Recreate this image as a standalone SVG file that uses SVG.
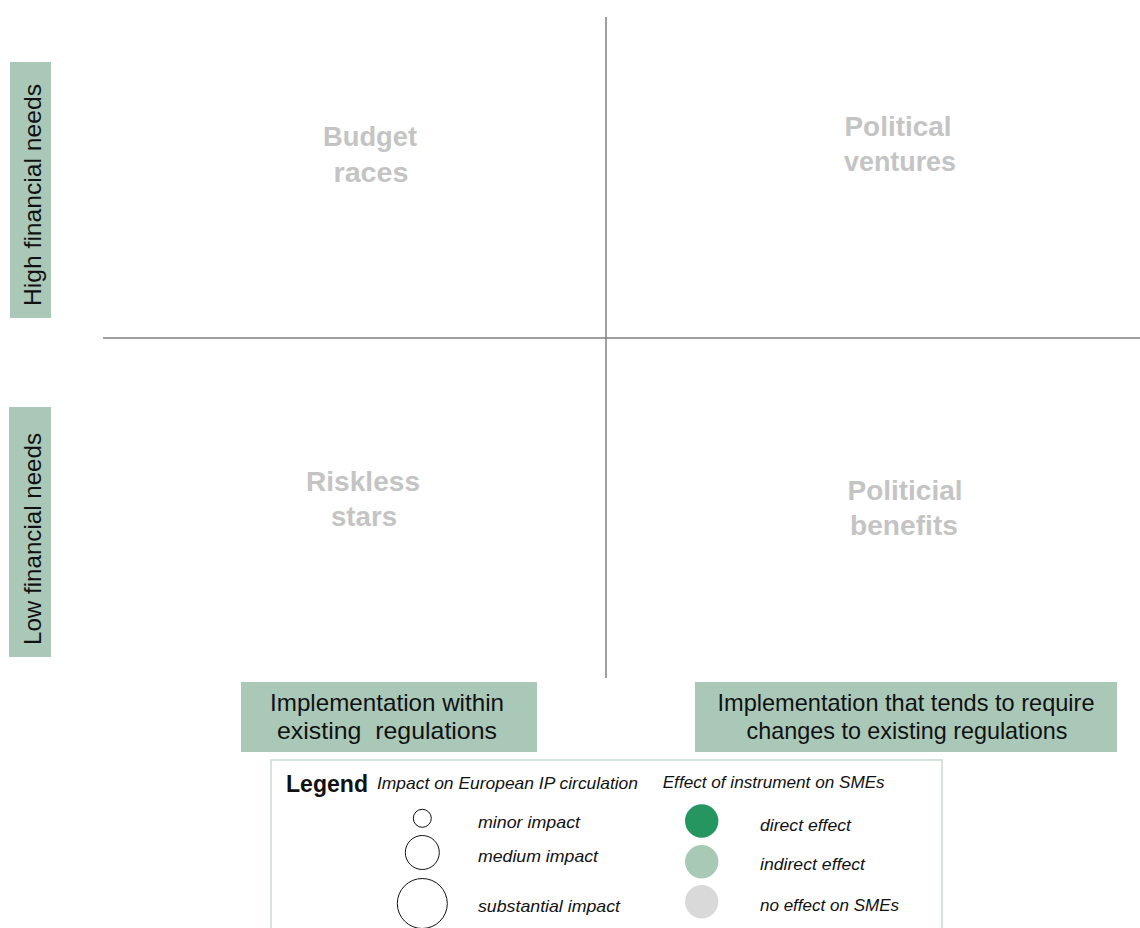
<svg xmlns="http://www.w3.org/2000/svg" width="1140" height="928" viewBox="0 0 1140 928">
<style>
.bg{fill:#aac8b8}
text{font-family:"Liberation Sans",Arial,sans-serif}
.ax{font-size:24px;fill:#111;text-anchor:middle}
.q{font-size:28px;font-weight:bold;fill:#c4c4c4;text-anchor:middle}
.bt{font-size:24px;fill:#111;text-anchor:middle}
.li{font-size:17px;font-style:italic;fill:#111}
.line{stroke:#808080;stroke-width:1.5;fill:none}
</style>
<rect width="1140" height="928" fill="#fff"/>
<g id="axes">
<line class="line" x1="606" y1="17" x2="606" y2="678"/>
<line class="line" x1="103" y1="338" x2="1140" y2="338"/>
</g>
<g id="high-label">
<rect class="bg" x="10" y="62" width="41" height="256"/>
<text class="ax" transform="translate(41,195) rotate(-90)" textLength="222" lengthAdjust="spacingAndGlyphs">High financial needs</text>
</g>
<g id="low-label">
<rect class="bg" x="9" y="407" width="42" height="250"/>
<text class="ax" transform="translate(41,539) rotate(-90)" textLength="212" lengthAdjust="spacingAndGlyphs">Low financial needs</text>
</g>
<g id="budget-races">
<text class="q" x="370" y="146" textLength="94" lengthAdjust="spacingAndGlyphs">Budget</text>
<text class="q" x="371" y="182" textLength="75" lengthAdjust="spacingAndGlyphs">races</text>
</g>
<g id="political-ventures">
<text class="q" x="898" y="136" textLength="107" lengthAdjust="spacingAndGlyphs">Political</text>
<text class="q" x="900" y="171" textLength="112" lengthAdjust="spacingAndGlyphs">ventures</text>
</g>
<g id="riskless-stars">
<text class="q" x="363" y="491" textLength="114" lengthAdjust="spacingAndGlyphs">Riskless</text>
<text class="q" x="364" y="526" textLength="66" lengthAdjust="spacingAndGlyphs">stars</text>
</g>
<g id="political-benefits">
<text class="q" x="905" y="500" textLength="115" lengthAdjust="spacingAndGlyphs">Politicial</text>
<text class="q" x="904" y="535" textLength="108" lengthAdjust="spacingAndGlyphs">benefits</text>
</g>
<g id="within-box">
<rect class="bg" x="241" y="682" width="296" height="70"/>
<text class="bt" x="387" y="711" textLength="234" lengthAdjust="spacingAndGlyphs">Implementation within</text>
<text class="bt" x="387" y="739" textLength="220" lengthAdjust="spacingAndGlyphs" xml:space="preserve">existing  regulations</text>
</g>
<g id="changes-box">
<rect class="bg" x="695" y="682" width="422" height="70"/>
<text class="bt" x="906" y="711" textLength="377" lengthAdjust="spacingAndGlyphs">Implementation that tends to require</text>
<text class="bt" x="907" y="739" textLength="321" lengthAdjust="spacingAndGlyphs">changes to existing regulations</text>
</g>
<g id="legend">
<rect x="271" y="760" width="671" height="180" fill="#fff" stroke="#c6dccf" stroke-width="1.5"/>
<text x="286" y="792" font-size="23" font-weight="bold" fill="#111" textLength="82" lengthAdjust="spacingAndGlyphs">Legend</text>
<text class="li" x="377" y="789" textLength="261" lengthAdjust="spacingAndGlyphs">Impact on European IP circulation</text>
<circle cx="422.3" cy="818.3" r="9" fill="#fff" stroke="#111" stroke-width="1"/>
<circle cx="422.3" cy="852.5" r="17" fill="#fff" stroke="#111" stroke-width="1"/>
<circle cx="422.3" cy="903.5" r="25" fill="#fff" stroke="#111" stroke-width="1"/>
<text class="li" x="478" y="828" textLength="102" lengthAdjust="spacingAndGlyphs">minor impact</text>
<text class="li" x="478" y="862" textLength="120" lengthAdjust="spacingAndGlyphs">medium impact</text>
<text class="li" x="478" y="912" textLength="142" lengthAdjust="spacingAndGlyphs">substantial impact</text>
<text class="li" x="662.7" y="788" textLength="222" lengthAdjust="spacingAndGlyphs">Effect of instrument on SMEs</text>
<circle cx="701.7" cy="821" r="16.7" fill="#259660"/>
<circle cx="701.7" cy="861.7" r="16.7" fill="#a9c9b7"/>
<circle cx="701.7" cy="901.7" r="16.7" fill="#d9d9d9"/>
<text class="li" x="760" y="831" textLength="91" lengthAdjust="spacingAndGlyphs">direct effect</text>
<text class="li" x="760" y="870" textLength="105" lengthAdjust="spacingAndGlyphs">indirect effect</text>
<text class="li" x="760" y="911" textLength="139" lengthAdjust="spacingAndGlyphs">no effect on SMEs</text>
</g>
</svg>
